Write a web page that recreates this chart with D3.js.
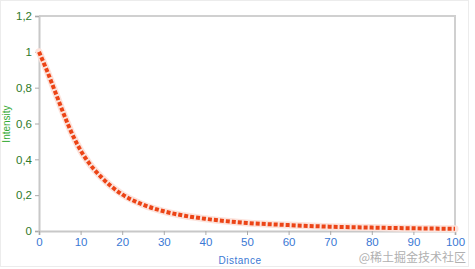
<!DOCTYPE html>
<html>
<head>
<meta charset="utf-8">
<script src="https://cdn.jsdelivr.net/npm/d3@7/dist/d3.min.js"></script>
<style>
body { margin: 0; background: #fff; }
svg { display: block; font-family: "Liberation Sans", Arial, sans-serif; }
</style>
</head>
<body>
<svg width="475" height="269"></svg>
<script>
// Data
var distance = [0, 2, 4, 6, 8, 10, 12, 15, 20, 25, 30, 35, 40, 50, 60, 70, 80, 90, 100];
var intensity = [1.0, 0.89, 0.77, 0.65, 0.54, 0.45, 0.38, 0.3, 0.204, 0.147, 0.11, 0.085, 0.068, 0.045, 0.033, 0.024, 0.019, 0.015, 0.012];
var yTicks = [0, 0.2, 0.4, 0.6, 0.8, 1, 1.2];
var xTicks = [0, 10, 20, 30, 40, 50, 60, 70, 80, 90, 100];

var svg = d3.select("svg"),
	margin = { top: 16, right: 20, bottom: 38, left: 39 },
	width = 475 - margin.left - margin.right,
	height = 269 - margin.top - margin.bottom;

// outer light frame
svg.append("rect")
	.attr("x", 0.5).attr("y", 0.5)
	.attr("width", 468).attr("height", 266)
	.attr("fill", "none")
	.attr("stroke", "#ececec");

var g = svg.append("g").attr("transform", "translate(" + margin.left + "," + margin.top + ")");

var x = d3.scaleLinear().domain([0, 100]).range([0, width]);
var y = d3.scaleLinear().domain([0, 1.2]).range([height, 0]);

var fmt = (d) => String(d).replace(".", ",");

// plot frame (top + right)
g.append("path")
	.attr("d", "M0,0H" + width + "V" + height)
	.attr("fill", "none")
	.attr("stroke", "#d0d0d0")
	.attr("stroke-width", 2);

// y axis
var yAxis = g.append("g")
	.call(d3.axisLeft(y).tickValues(yTicks).tickFormat(fmt).tickSize(4).tickPadding(3));
yAxis.select(".domain").attr("stroke", "#c8c8c8").attr("stroke-width", 2);
yAxis.selectAll(".tick line").attr("stroke", "#aaa");
yAxis.selectAll("text").attr("fill", "#2f7a2a").attr("font-size", 11.5);

// x axis
var xAxis = g.append("g")
	.attr("transform", "translate(0," + height + ")")
	.call(d3.axisBottom(x).tickValues(xTicks).tickSize(4).tickPadding(3));
xAxis.select(".domain").attr("stroke", "#c8c8c8").attr("stroke-width", 2);
xAxis.selectAll(".tick line").attr("stroke", "#aaa");
xAxis.selectAll("text").attr("fill", "#3a78d4").attr("font-size", 11.5);

// axis titles
svg.append("text")
	.attr("transform", "translate(10,124) rotate(-90)")
	.attr("text-anchor", "middle")
	.attr("font-size", 10)
	.attr("fill", "#33aa33")
	.text("Intensity");

svg.append("text")
	.attr("x", 240).attr("y", 264)
	.attr("text-anchor", "middle")
	.attr("font-size", 10)
	.attr("letter-spacing", 0.5)
	.attr("fill", "#3a78d4")
	.text("Distance");

// the curve
var pts = distance.map((d, i) => [d, intensity[i]]);
var line = d3.line()
	.x((d) => x(d[0]))
	.y((d) => y(d[1]))
	.curve(d3.curveMonotoneX);

g.append("path")
	.attr("d", line(pts))
	.attr("fill", "none")
	.attr("stroke", "#fce3dc")
	.attr("stroke-width", 7)
	.attr("stroke-linecap", "round");

g.append("path")
	.attr("d", line(pts))
	.attr("fill", "none")
	.attr("stroke", "#ec4416")
	.attr("stroke-width", 4)
	.attr("stroke-dasharray", "4,2");

// watermark
svg.append("text")
	.attr("x", 466).attr("y", 262)
	.attr("text-anchor", "end")
	.attr("font-size", 12)
	.attr("font-family", "'Noto Sans CJK SC', sans-serif")
	.attr("fill", "#b0b0b0")
	.text("@稀土掘金技术社区");
</script>
</body>
</html>
